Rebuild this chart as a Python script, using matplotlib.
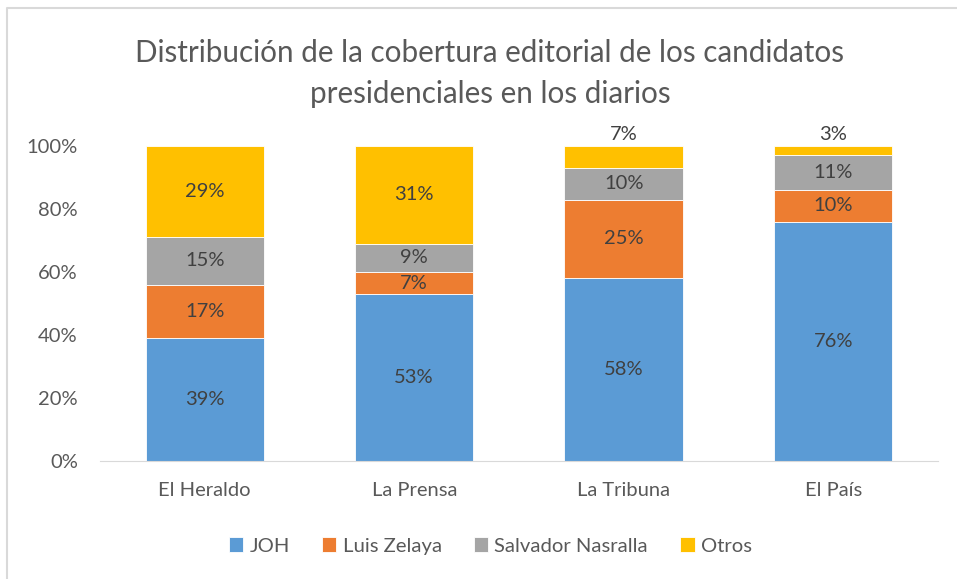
import matplotlib.pyplot as plt
from matplotlib.lines import Line2D
import numpy as np

plt.rcParams['font.family'] = ['Lato', 'DejaVu Sans']

# data
diarios = ['El Heraldo', 'La Prensa', 'La Tribuna', 'El País']
candidatos = ['JOH', 'Luis Zelaya', 'Salvador Nasralla', 'Otros']
joh = [39, 53, 58, 76]
zelaya = [17, 7, 25, 10]
nasralla = [15, 9, 10, 11]
otros = [29, 31, 7, 3]
colores = ['#5B9BD5', '#ED7D31', '#A5A5A5', '#FFC000']

series = [joh, zelaya, nasralla, otros]

fig = plt.figure(figsize=(9.57, 5.79), dpi=100)
ax = fig.add_axes([0.1045, 0.2038, 0.8755, 0.544])

x = np.arange(len(diarios))
bottom = np.zeros(len(diarios))
for vals, nombre, col in zip(series, candidatos, colores):
    vals = np.array(vals, dtype=float)
    ax.bar(x, vals, 0.565, bottom=bottom, color=col, label=nombre,
           edgecolor='white', linewidth=0.6)
    for i, v in enumerate(vals):
        if v <= 7 and nombre == 'Otros' and bottom[i] + v >= 99:
            # small top segments: label above the bar
            ax.text(x[i], bottom[i] + v + 1.0, f'{int(v)}%', ha='center',
                    va='bottom', fontsize=14.5, color='#404040')
        else:
            ax.text(x[i], bottom[i] + v / 2, f'{int(v)}%', ha='center',
                    va='center', fontsize=14.5, color='#404040')
    bottom += vals

ax.set_xlim(-0.5, 3.5)
ax.set_ylim(0, 100)
ax.set_yticks(np.arange(0, 101, 20))
ax.set_yticklabels([f'{t}%' for t in range(0, 101, 20)])
ax.set_xticks(x)
ax.set_xticklabels(diarios)
ax.tick_params(axis='both', length=0, labelsize=14.5, labelcolor='#595959')
ax.tick_params(axis='y', pad=16)
ax.tick_params(axis='x', pad=15)
for s in ['top', 'right', 'left']:
    ax.spines[s].set_visible(False)
ax.spines['bottom'].set_color('#D9D9D9')

fig.text(0.512, 0.873, 'Distribución de la cobertura editorial de los candidatos\npresidenciales en los diarios',
         ha='center', va='center', fontsize=21.3, color='#595959', linespacing=1.55)

fig.legend(loc='center', bbox_to_anchor=(0.5125, 0.057), ncol=4, frameon=False,
           fontsize=14.6, labelcolor='#595959', handlelength=0.7, handleheight=0.7,
           handletextpad=0.3, columnspacing=1.6)

# chart border (left and top visible)
fig.add_artist(Line2D([7 / 957, 7 / 957, 1], [0, 1 - 8 / 579, 1 - 8 / 579],
                      transform=fig.transFigure, color='#D9D9D9', linewidth=1.5))

fig.savefig('out.png', dpi=100)
